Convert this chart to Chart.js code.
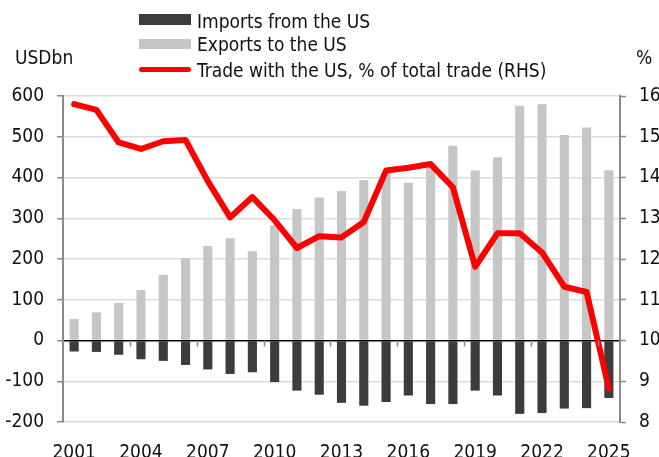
<!DOCTYPE html>
<html>
<head>
<meta charset="utf-8">
<script src="https://cdn.jsdelivr.net/npm/chart.js@4.4.1/dist/chart.umd.min.js"></script>
<style>
    body { margin: 0; background: #fff; }
    #wrap { position: relative; width: 659px; height: 457px; font-family: "Liberation Sans Narrow", "Arial Narrow", "DejaVu Sans Condensed", sans-serif; color: #111; }
    #wrap canvas { position: absolute; left: 0; top: 0; }
    .lbl { position: absolute; font-size: 19px; line-height: 20px; white-space: nowrap; }
    .key { position: absolute; left: 139px; width: 52px; }
</style>
</head>
<body>
<div id="wrap">
    <canvas id="tradeChart" width="659" height="457"></canvas>
    <div class="key" style="top:14px;height:11px;background:#3c3c3c"></div>
    <div class="lbl" style="left:197px;top:11px">Imports from the US</div>
    <div class="key" style="top:39px;height:10px;background:#c6c6c6"></div>
    <div class="lbl" style="left:197px;top:34px">Exports to the US</div>
    <div class="key" style="top:67px;height:5px;background:#ff0000;border-radius:3px"></div>
    <div class="lbl" style="left:197px;top:60px">Trade with the US, % of total trade (RHS)</div>
    <div class="lbl" style="left:15px;top:47px">USDbn</div>
    <div class="lbl" style="left:636px;top:47px">%</div>
</div>
<script>
const years = ['2001', '2002', '2003', '2004', '2005', '2006', '2007', '2008', '2009', '2010',
    '2011', '2012', '2013', '2014', '2015', '2016', '2017', '2018', '2019', '2020',
    '2021', '2022', '2023', '2024', '2025'];
const importsFromUS = [-27, -28, -35, -46, -50, -60, -71, -82, -78, -102,
    -123, -133, -153, -160, -151, -135, -156, -156, -123, -135,
    -180, -178, -167, -166, -141];
const exportsToUS = [53, 69, 92, 124, 161, 202, 232, 251, 219, 283,
    323, 351, 367, 394, 412, 387, 425, 478, 417, 450,
    576, 580, 504, 523, 418];
const tradeShare = [15.80, 15.66, 14.86, 14.70, 14.89, 14.92, 13.91, 13.02, 13.52, 12.95,
    12.27, 12.56, 12.53, 12.91, 14.17, 14.24, 14.33, 13.76, 11.81, 12.63,
    12.63, 12.16, 11.32, 11.19, 8.82];

const FONT = '"Liberation Sans Narrow", "Arial Narrow", "DejaVu Sans Condensed", sans-serif';
const AXIS_GREY = '#8a8a8a';

// short tick marks hanging from the zero line, one per labelled year
const zeroTicks = {
    id: 'zeroTicks',
    afterDatasetsDraw(chart) {
        const ctx = chart.ctx;
        const x = chart.scales.x;
        const y0 = chart.scales.y.getPixelForValue(0);
        const half = (x.getPixelForValue(1) - x.getPixelForValue(0)) / 2;
        ctx.save();
        ctx.strokeStyle = AXIS_GREY;
        ctx.lineWidth = 1.5;
        for (let i = 3; i < years.length; i += 3) {
            const px = Math.round(x.getPixelForValue(i) - half) + 0.5;
            ctx.beginPath();
            ctx.moveTo(px, y0);
            ctx.lineTo(px, y0 + 6);
            ctx.stroke();
        }
        ctx.restore();
    }
};

new Chart(document.getElementById('tradeChart').getContext('2d'), {
    type: 'bar',
    data: {
        labels: years,
        datasets: [
            {
                type: 'line',
                label: 'Trade with the US, % of total trade (RHS)',
                data: tradeShare,
                yAxisID: 'y2',
                borderColor: '#ff0000',
                borderWidth: 6,
                borderCapStyle: 'round',
                borderJoinStyle: 'round',
                pointRadius: 0,
                tension: 0,
                order: 0
            },
            {
                label: 'Imports from the US',
                data: importsFromUS,
                backgroundColor: '#3c3c3c',
                categoryPercentage: 1,
                barPercentage: 0.41,
                order: 1
            },
            {
                label: 'Exports to the US',
                data: exportsToUS,
                backgroundColor: '#c6c6c6',
                categoryPercentage: 1,
                barPercentage: 0.41,
                order: 2
            }
        ]
    },
    options: {
        responsive: false,
        animation: false,
        layout: { padding: { top: 96, left: 0, right: 0, bottom: 0 } },
        plugins: {
            legend: { display: false },
            tooltip: { enabled: false }
        },
        scales: {
            x: {
                stacked: true,
                grid: { display: false },
                border: { display: false },
                ticks: {
                    autoSkip: false,
                    maxRotation: 0,
                    padding: 12,
                    color: '#111',
                    font: { family: FONT, size: 19 },
                    callback: function(value, index) {
                        return index % 3 === 0 ? years[index] : '';
                    }
                },
                afterFit: function(scale) { scale.height = 35; }
            },
            y: {
                stacked: true,
                position: 'left',
                min: -200,
                max: 600,
                ticks: {
                    stepSize: 100,
                    padding: 13,
                    color: '#111',
                    font: { family: FONT, size: 19 }
                },
                grid: {
                    color: ctx => ctx.tick && ctx.tick.value === 0 ? '#000' : '#dcdcdc',
                    lineWidth: 1.5,
                    tickLength: 6,
                    tickColor: AXIS_GREY,
                    tickWidth: 1.5
                },
                border: { color: AXIS_GREY, width: 2 },
                afterFit: function(scale) { scale.width = 63; }
            },
            y2: {
                position: 'right',
                min: 8,
                max: 16,
                ticks: {
                    stepSize: 1,
                    padding: 13,
                    color: '#111',
                    font: { family: FONT, size: 19 }
                },
                grid: {
                    drawOnChartArea: false,
                    tickLength: 6,
                    tickColor: AXIS_GREY,
                    tickWidth: 1.5
                },
                border: { color: AXIS_GREY, width: 2 },
                afterFit: function(scale) { scale.width = 39; }
            }
        }
    },
    plugins: [zeroTicks]
});
</script>
</body>
</html>
